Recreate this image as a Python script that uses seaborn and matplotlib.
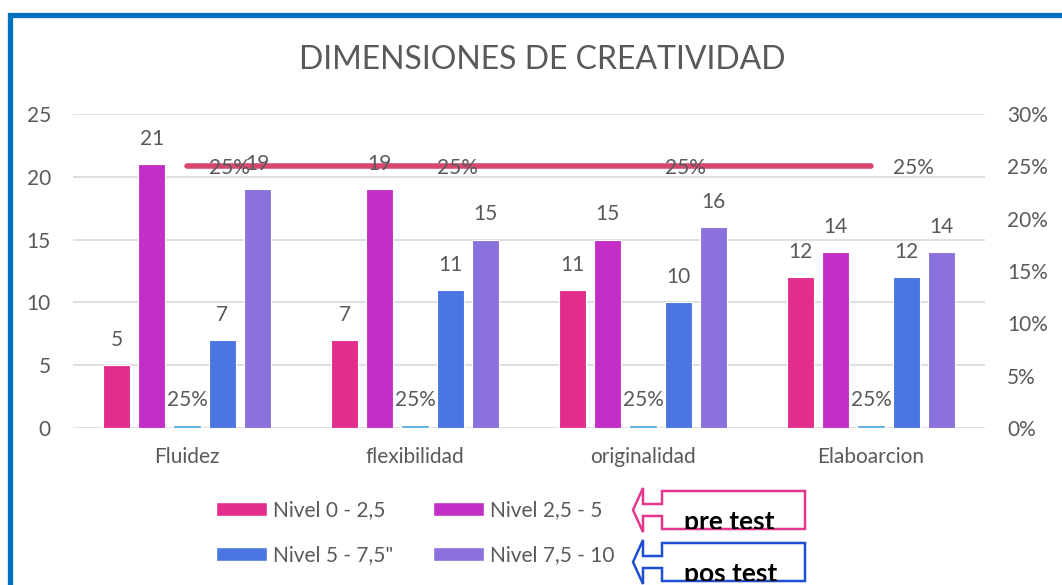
import numpy as np
import pandas as pd
import matplotlib
matplotlib.use("Agg")
import matplotlib.pyplot as plt
from matplotlib.patches import Rectangle, Polygon, Patch
from matplotlib.ticker import PercentFormatter
import seaborn as sns

sns.set_style("white")
plt.rcParams["font.family"] = ["Lato", "DejaVu Sans"]

# --- data ---
dimensiones = ["Fluidez", "flexibilidad", "originalidad", "Elaboarcion"]
series = ["Nivel 0 - 2,5", "Nivel 2,5 - 5", "Porcentaje", "Nivel 5 - 7,5\"", "Nivel 7,5 - 10"]
nivel_0_25 = [5, 7, 11, 12]
nivel_25_5 = [21, 19, 15, 14]
porcentaje = [0.25, 0.25, 0.25, 0.25]
nivel_5_75 = [7, 11, 10, 12]
nivel_75_10 = [19, 15, 16, 14]
linea_pct = [0.25, 0.25, 0.25, 0.25]

colores = ["#E22D8D", "#C32FC6", "#5DAEE3", "#4A75E3", "#8A71DE"]
color_linea = "#D7476F"
gris = "#595959"
fs = 15

df = pd.DataFrame({
    "dimension": dimensiones * 5,
    "serie": np.repeat(series, 4),
    "valor": nivel_0_25 + nivel_25_5 + porcentaje + nivel_5_75 + nivel_75_10,
})

W, H = 1062, 585
fig = plt.figure(figsize=(W / 100, H / 100), dpi=100)
ax = fig.add_axes([73 / W, 1 - 428 / H, (985 - 73) / W, (428 - 114) / H])

sns.barplot(data=df, x="dimension", y="valor", hue="serie", hue_order=series,
            order=dimensiones, palette=colores, width=0.77, gap=0.23,
            saturation=1, edgecolor="white", linewidth=0.8, legend=False, ax=ax)

ax.set_ylim(0, 25)
ax.set_yticks(range(0, 26, 5))
ax.set_xlabel("")
ax.set_ylabel("")
ax.grid(axis="y", color="#D9D9D9", lw=1.2)
ax.set_axisbelow(True)
sns.despine(ax=ax, left=True, bottom=True)
ax.tick_params(axis="both", length=0, labelsize=fs, labelcolor=gris)
ax.tick_params(axis="y", pad=16)
ax.tick_params(axis="x", pad=14)

for i, cont in enumerate(ax.containers):
    if series[i] == "Porcentaje":
        labs = [f"{v:.0%}" for v in porcentaje]
    else:
        labs = [f"{v:.0f}" for v in cont.datavalues]
    ax.bar_label(cont, labels=labs, padding=11, fontsize=fs, color=gris)

# secondary axis with the 25% line
ax2 = ax.twinx()
ax2.set_ylim(0, 0.30)
ax2.set_yticks(np.arange(0, 0.31, 0.05))
ax2.yaxis.set_major_formatter(PercentFormatter(1.0, decimals=0))
ax2.tick_params(axis="y", length=0, labelsize=fs, labelcolor=gris, pad=16)
for s in ax2.spines.values():
    s.set_visible(False)
xpos = np.arange(len(dimensiones))
ax2.plot(xpos, linea_pct, color=color_linea, lw=4, solid_capstyle="round")
for x, v in zip(xpos, linea_pct):
    ax2.annotate(f"{v:.0%}", (x, v), xytext=(16, -1), textcoords="offset points",
                 ha="left", va="center", fontsize=fs, color=gris)
ax.set_xlim(-0.5, len(dimensiones) - 0.5)
# bar labels drawn above the line, like in the original
ax.set_zorder(ax2.get_zorder() + 1)
ax.patch.set_visible(False)

fig.suptitle("DIMENSIONES DE CREATIVIDAD", x=542 / W, y=1 - 60 / H, va="center",
             fontsize=23, color=gris)

# legend (only the four levels)
orden = [0, 3, 1, 4]
handles = [Patch(facecolor=colores[i]) for i in orden]
fig.legend(handles, [series[i] for i in orden], ncol=2, loc="upper left",
           bbox_to_anchor=(216 / W, 1 - 500 / H), frameon=False, fontsize=fs,
           labelcolor=gris, handlelength=2.45, handleheight=0.65,
           handletextpad=0.3, columnspacing=1.9, labelspacing=1.2,
           borderpad=0, borderaxespad=0)

# outer blue frame
fig.patches.append(Rectangle((10 / W, -0.2), 1.2, 1.2 - 15 / H, transform=fig.transFigure,
                             fill=False, ec="#0070C0", lw=3.8))


def px(x, y):
    return (x / W, 1 - y / H)


def flecha(y0, col, texto):
    # left arrow callout drawn in pixel coordinates
    pts = [(633, y0 + 22), (643, y0), (643, y0 + 16), (662, y0 + 16), (662, y0 + 3),
           (805, y0 + 3), (805, y0 + 41), (662, y0 + 41), (662, y0 + 28),
           (643, y0 + 28), (643, y0 + 44)]
    fig.patches.append(Polygon([px(*p) for p in pts], closed=True, transform=fig.transFigure,
                               fc="white", ec=col, lw=1.8))
    caja = Rectangle(px(662, y0 + 41), 143 / W, 38 / H, transform=fig.transFigure)
    t = fig.text(*px(684, y0 + 42), texto, fontsize=19, fontweight="bold",
                 color="black", va="baseline", ha="left")
    t.set_clip_path(caja)


flecha(488, "#E6378F", "pre test")
flecha(540, "#1F4ED0", "pos test")

fig.savefig("out.png", dpi=100)
